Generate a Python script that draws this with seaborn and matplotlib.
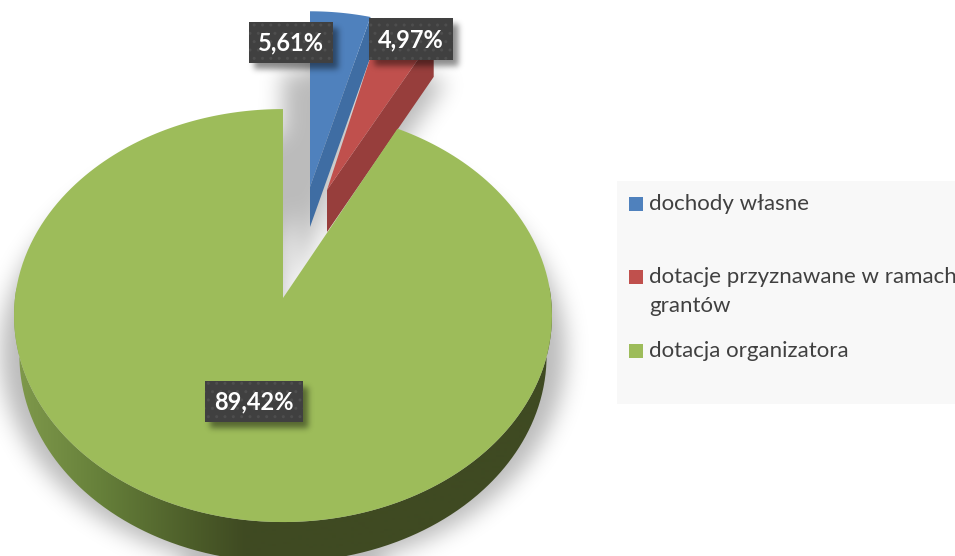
"""
Exploded 3D-look pie of budget shares
"""

import numpy as np
import matplotlib
matplotlib.use("Agg")
import matplotlib.pyplot as plt
from matplotlib.colors import to_rgb
from matplotlib.patches import Polygon, Rectangle, PathPatch
from matplotlib.path import Path
import seaborn as sns

categories = ["dochody własne", "dotacje przyznawane w ramach\ngrantów", "dotacja organizatora"]
shares = [5.61, 4.97, 89.42]
top_colors = ["#4f81bd", "#c0504d", "#9dbc5a"]
side_colors = ["#3f6da3", "#973e3c", "#3f4a22"]

W, H = 955, 556
DEPTH = 40
TILT_A, TILT_B, PERSP = 268, 205, 0.085
# apex of each slice's top face and its size, px
apexes = [(310, 187), (327, 190), (283, 298)]
scales = [0.93, 0.91, 1.0]
warps = [0.74, 0.68, 0.66]
label_boxes = [(249, 22, 84, 41), (369, 18, 84, 42), (205, 381, 98, 41)]


def project(theta, apex, scale, warp):
    phi = np.radians(90 - np.asarray(theta, dtype=float))
    phi = np.arctan2(warp * np.sin(phi), np.cos(phi))
    u, v = np.sin(phi), np.cos(phi)
    s = scale / (1 + PERSP * v)
    return np.column_stack([apex[0] + TILT_A * u * s, apex[1] - TILT_B * v * s])


def blurred(polys, sigma):
    yy, xx = np.mgrid[0:H, 0:W]
    pts = np.column_stack([xx.ravel() + 0.5, yy.ravel() + 0.5])
    mask = np.zeros(H * W)
    for p in polys:
        mask = np.maximum(mask, Path(p).contains_points(pts).astype(float))
    mask = mask.reshape(H, W)
    x = np.arange(-3 * sigma, 3 * sigma + 1)
    kern = np.exp(-x**2 / (2.0 * sigma**2))
    kern /= kern.sum()
    pad = 3 * sigma + 2
    mask = np.pad(mask, pad, mode="edge")
    mask = np.apply_along_axis(lambda c: np.convolve(c, kern, mode="same"), 0, mask)
    mask = np.apply_along_axis(lambda c: np.convolve(c, kern, mode="same"), 1, mask)
    return mask[pad:-pad, pad:-pad]


def show_shadow(ax, polys, sigma, alpha, z):
    rgba = np.zeros((H, W, 4))
    rgba[..., 3] = blurred(polys, sigma) * alpha
    ax.imshow(rgba, extent=(0, W, H, 0), aspect="auto", zorder=z)


sns.set_theme(style="white")
plt.rcParams["font.family"] = ["Lato", "DejaVu Sans"]

fig = plt.figure(figsize=(W / 100, H / 100), dpi=100, facecolor="white")
ax = fig.add_axes([0, 0, 1, 1])

wedges, _ = ax.pie(shares, startangle=90, counterclock=False, colors=sns.color_palette(top_colors))
for w in wedges:
    w.set_visible(False)

# faces of each slice
tops = []
for w, apex, sc, wp in zip(wedges, apexes, scales, warps):
    arc = project(np.linspace(w.theta2, w.theta1, 240), apex, sc, wp)
    tops.append(np.vstack([[apex], arc]))

# soft shadow under everything, shifted down and into the gap
green_shadow = project(np.linspace(wedges[2].theta2, wedges[2].theta1, 240), apexes[2], 1.05, warps[2])
shadow_polys = [
    np.vstack([[apexes[2]], green_shadow]) + [0, 36],
    tops[0] + [-28, 60],
    tops[0] + [-14, 100],
    tops[0] + [0, 45],
    tops[1] + [0, 50],
    tops[1] + [12, 45],
]
show_shadow(ax, shadow_polys, 11, 0.27, 1.2)

# cut faces of the two small slices
for i in (0, 1):
    top = tops[i]
    corner = project(wedges[i].theta1, apexes[i], scales[i], warps[i])[0]
    apex = np.array(apexes[i], dtype=float)
    face = [apex, corner, corner + [0, DEPTH], apex + [0, DEPTH + (2 if i else 0)]]
    ax.add_patch(Polygon(face, closed=True, facecolor=side_colors[i], edgecolor="none", zorder=2 + i))
    ax.add_patch(Polygon(top, closed=True, facecolor=top_colors[i], edgecolor="none", zorder=2.5 + i))

# green outer wall with sideways gradient, lower rim a bit narrower
th = np.linspace(-182, 2, 300)
rim = project(th, apexes[2], scales[2], warps[2])
lower = rim + [0, DEPTH]
lower[:, 0] = apexes[2][0] + (lower[:, 0] - apexes[2][0]) * 0.98
wall = np.vstack([rim, lower[::-1]])
stops_x = [14, 100, 200, 245, 955]
stops_c = [to_rgb(c) for c in ["#809a4c", "#66803a", "#4a5a28", side_colors[2], side_colors[2]]]
grad = np.stack([np.interp(np.arange(W), stops_x, [c[k] for c in stops_c]) for k in range(3)], axis=1)
im = ax.imshow(grad[np.newaxis, :, :], extent=(0, W, H, 0), aspect="auto", zorder=4)
clip = PathPatch(Path(wall), transform=ax.transData, facecolor="none", edgecolor="none")
ax.add_patch(clip)
im.set_clip_path(clip)
ax.add_patch(Polygon(tops[2], closed=True, facecolor=top_colors[2], edgecolor="none", zorder=5))

# data labels
label_polys = [[(x + 5, y + 6), (x + w + 5, y + 6), (x + w + 5, y + h + 6), (x + 5, y + h + 6)]
               for x, y, w, h in label_boxes]
show_shadow(ax, label_polys, 3, 0.45, 6)
for (x, y, w, h), val in zip(label_boxes, shares):
    ax.add_patch(Rectangle((x, y), w, h, facecolor="#404040", edgecolor="#4e4e4e", hatch="..",
                           linewidth=0, zorder=7))
    ax.text(x + w / 2, y + h / 2 + 0.5, f"{val:.2f}%".replace(".", ","), color="white", fontsize=17,
            fontweight="bold", ha="center", va="center", zorder=8)

# legend panel
ax.add_patch(Rectangle((617, 181), 338, 223, facecolor="#f8f8f8", edgecolor="none", zorder=1.5))
legend_y = [204, 277, 351]
for cat, col, ly in zip(categories, top_colors, legend_y):
    ax.add_patch(Rectangle((629, ly - 7), 14, 14, facecolor=col, edgecolor="none", zorder=2))
    ax.text(649, ly - 10, cat, color="#404040", fontsize=16, ha="left", va="top",
            linespacing=1.58, zorder=2)

ax.set_xlim(0, W)
ax.set_ylim(H, 0)
ax.set_aspect("auto")
ax.axis("off")
fig.savefig("out.png", dpi=100)
